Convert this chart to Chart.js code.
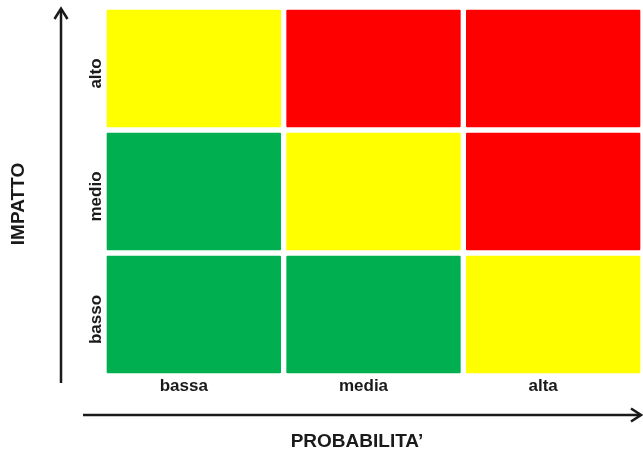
<!DOCTYPE html>
<html>
<head>
<meta charset="utf-8">
<style>
  html, body { margin: 0; padding: 0; background: #fff; }
  #wrap { position: relative; width: 643px; height: 452px; }
</style>
</head>
<body>
<div id="wrap"><canvas id="matrice" width="643" height="452"></canvas></div>

<script src="https://cdn.jsdelivr.net/npm/chart.js@4.4.0/dist/chart.umd.min.js"></script>
<script>
// Dati della matrice
const probabilita = ['bassa', 'media', 'alta'];
const impatto = ['basso', 'medio', 'alto'];
// livello di rischio per riga di impatto (basso -> alto), colonna = probabilita
const rischioBasso = ['verde', 'verde', 'giallo'];
const rischioMedio = ['verde', 'giallo', 'rosso'];
const rischioAlto = ['giallo', 'rosso', 'rosso'];

const colori = { verde: '#00B050', giallo: '#FFFF00', rosso: '#FF0000' };
const righe = [rischioBasso, rischioMedio, rischioAlto];

const datasets = righe.map((riga, i) => ({
    label: impatto[i],
    data: probabilita.map(() => [i, i + 1]),
    backgroundColor: riga.map(l => colori[l]),
    borderColor: '#ffffff',
    borderWidth: 3,
    borderSkipped: false,
    borderRadius: 4,
    grouped: false,
    barPercentage: 1,
    categoryPercentage: 1
}));

// frecce e titoli degli assi
const decorazioni = {
    id: 'decorazioni',
    afterDraw(chart) {
        const ctx = chart.ctx;
        ctx.save();
        ctx.strokeStyle = '#1a1a1a';
        ctx.lineWidth = 2.5;
        ctx.lineCap = 'butt';
        ctx.lineJoin = 'miter';
        // freccia verticale
        ctx.beginPath();
        ctx.moveTo(61, 383);
        ctx.lineTo(61, 9);
        ctx.stroke();
        ctx.beginPath();
        ctx.moveTo(54.5, 19);
        ctx.lineTo(61, 8.5);
        ctx.lineTo(67.5, 19);
        ctx.stroke();
        // freccia orizzontale
        ctx.beginPath();
        ctx.moveTo(83, 415);
        ctx.lineTo(640, 415);
        ctx.stroke();
        ctx.beginPath();
        ctx.moveTo(631, 408.5);
        ctx.lineTo(641, 415);
        ctx.lineTo(631, 421.5);
        ctx.stroke();

        ctx.fillStyle = '#1a1a1a';
        ctx.font = 'bold 19px "Liberation Sans", Arial, sans-serif';
        ctx.textAlign = 'center';
        ctx.textBaseline = 'middle';
        ctx.fillText('PROBABILITA\u2019', 357, 442);
        ctx.translate(19, 204);
        ctx.rotate(-Math.PI / 2);
        ctx.fillText('IMPATTO', 0, 0);
        ctx.restore();
    }
};

new Chart(document.getElementById('matrice'), {
    type: 'bar',
    data: { labels: probabilita, datasets: datasets },
    options: {
        responsive: false,
        animation: false,
        layout: { padding: { top: 7, right: 0, left: 0, bottom: 0 } },
        plugins: { legend: { display: false }, tooltip: { enabled: false } },
        scales: {
            x: {
                grid: { display: false, drawTicks: false },
                border: { display: false },
                ticks: {
                    color: '#1a1a1a',
                    padding: 0,
                    labelOffset: -10,
                    font: { family: '"Liberation Sans", Arial, sans-serif', size: 17, weight: 'bold' }
                },
                afterFit(scale) { scale.height = 76; }
            },
            y: {
                min: 0,
                max: 3,
                grid: { display: false, drawTicks: false },
                border: { display: false },
                afterBuildTicks(scale) {
                    scale.ticks = impatto.map((_, i) => ({ value: i + 0.5 }));
                },
                ticks: {
                    color: '#1a1a1a',
                    minRotation: 90,
                    maxRotation: 90,
                    crossAlign: 'center',
                    padding: -17,
                    labelOffset: 5,
                    font: { family: '"Liberation Sans", Arial, sans-serif', size: 17, weight: 'bold' },
                    callback: (v) => impatto[Math.floor(v)]
                },
                afterFit(scale) { scale.width = 104; }
            }
        }
    },
    plugins: [decorazioni]
});
</script>
</body>
</html>
